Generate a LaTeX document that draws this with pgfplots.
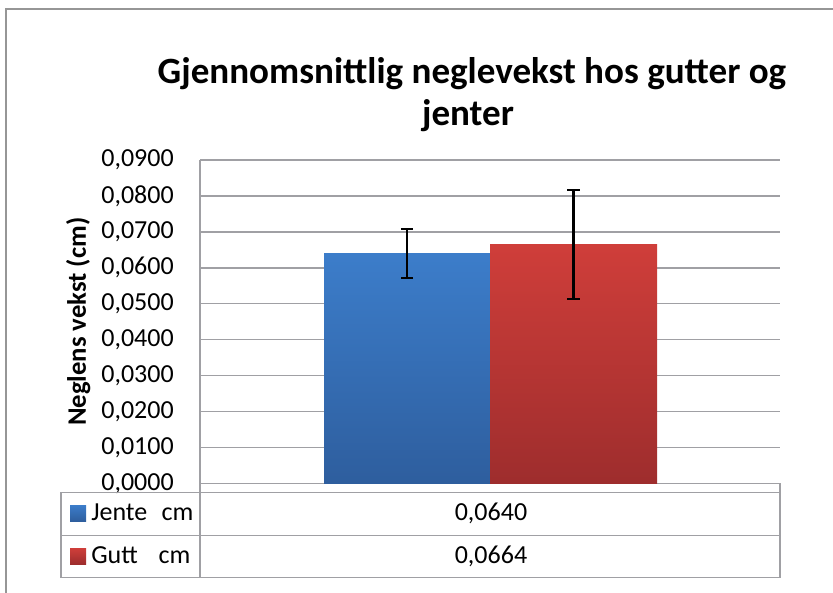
\documentclass[border=0pt]{standalone}
\usepackage{fontspec}
\setmainfont{Carlito}
\usepackage{pgfplots}
\pgfplotsset{compat=1.18}
\definecolor{gridgray}{RGB}{160,160,164}
\definecolor{framegray}{RGB}{150,150,150}
\definecolor{bluetop}{RGB}{60,125,202}
\definecolor{bluebot}{RGB}{46,94,158}
\definecolor{redtop}{RGB}{207,62,58}
\definecolor{redbot}{RGB}{158,45,45}
\newcommand{\tfont}{\fontsize{19.5}{23.4}\selectfont}
\begin{document}
\begin{tikzpicture}
\useasboundingbox (0,0) rectangle (624.75pt,-444.75pt);
\begin{axis}[
  at={(150pt,-120pt)}, anchor=north west,
  scale only axis, width=435pt, height=242.5pt,
  xmin=0, xmax=1, ymin=0, ymax=0.09,
  xtick=\empty,
  ytick={0,0.01,0.02,0.03,0.04,0.05,0.06,0.07,0.08,0.09},
  scaled y ticks=false,
  ymajorgrids,
  grid style={gridgray, line width=1.1pt},
  axis lines*=left,
  axis line style={gridgray, line width=1.1pt},
  major tick length=0pt,
  yticklabel style={font=\tfont, inner sep=0pt, xshift=-19.5pt},
  /pgf/number format/fixed,
  /pgf/number format/fixed zerofill,
  /pgf/number format/precision=4,
  /pgf/number format/use comma,
  /pgf/number format/1000 sep={},
  /pgf/number format/assume math mode=true,
  ylabel={Neglens vekst (cm)},
  ylabel style={at={(axis description cs:-0.1966,0.5)}, anchor=base, font=\bfseries\fontsize{20}{24}\selectfont},
  clip=false,
]
\addplot[ybar, bar width=0.2862, bar shift=0pt, draw=none, top color=bluetop, bottom color=bluebot,
  error bars/.cd, y dir=both, y explicit,
  error bar style={line width=1.6pt, black},
  error mark options={rotate=90, mark size=4.6pt, line width=1.6pt, black}]
  coordinates {(0.3569,0.0640) +- (0,0.0068)};
\addplot[ybar, bar width=0.2879, bar shift=0pt, draw=none, top color=redtop, bottom color=redbot,
  error bars/.cd, y dir=both, y explicit,
  error bar style={line width=1.6pt, black},
  error mark options={rotate=90, mark size=4.6pt, line width=1.6pt, black}]
  coordinates {(0.6440,0.0664) +- (0,0.0152)};
\end{axis}
\begin{scope}[x=0.75pt,y=-0.75pt]
  \draw[framegray, line width=1.5pt] (6,593) -- (6,8.5) -- (833,8.5);
  \draw[gridgray, line width=1.1pt] (200,483.3) -- (200,492.7);
  \draw[gridgray, line width=1.1pt] (780,483.3) -- (780,492.7);
  \draw[gridgray, line width=1.1pt] (61,492.7) rectangle (780,577.7);
  \draw[gridgray, line width=1.1pt] (61,535.7) -- (780,535.7);
  \draw[gridgray, line width=1.1pt] (200,492.7) -- (200,577.7);
  \shade[top color=bluetop, bottom color=bluebot] (70,505) rectangle (86,521);
  \shade[top color=redtop, bottom color=redbot] (70,548) rectangle (86,564);
  \node[anchor=base west, inner sep=0pt, font=\tfont] at (91,520.7) {Jente\hspace{0.55em}cm};
  \node[anchor=base west, inner sep=0pt, font=\tfont] at (91,563) {Gutt\hspace{0.8em}cm};
  \node[anchor=base, inner sep=0pt, font=\tfont] at (491,520.7) {0,0640};
  \node[anchor=base, inner sep=0pt, font=\tfont] at (491,563) {0,0664};
  \node[anchor=base, inner sep=0pt, font=\bfseries\fontsize{27.8}{33}\selectfont] at (472,83) {Gjennomsnittlig neglevekst hos gutter og};
  \node[anchor=base, inner sep=0pt, font=\bfseries\fontsize{27.8}{33}\selectfont] at (468,125) {jenter};
\end{scope}
\end{tikzpicture}
\end{document}
